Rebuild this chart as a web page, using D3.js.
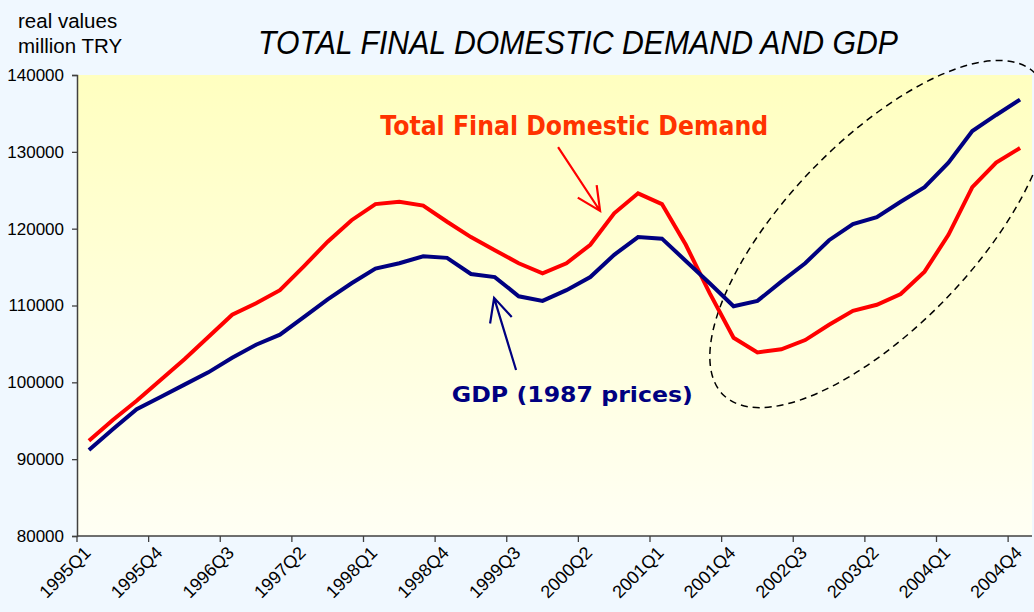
<!DOCTYPE html>
<html>
<head>
<meta charset="utf-8">
<script src="https://cdn.jsdelivr.net/npm/d3@7"></script>
<style>
  html, body { margin: 0; padding: 0; background: #F0F8FF; }
  svg { display: block; }
</style>
</head>
<body>
<svg id="chart"></svg>
<script>
      // data ==========================================================
      var years    = ["1995","1996","1997","1998","1999","2000","2001","2002","2003","2004"];
      var quarters = [];
      years.forEach(function(y) { for (var q = 1; q <= 4; q++) quarters.push(y + "Q" + q); });

      // Total Final Domestic Demand, real values million TRY
      var tfdd = [92400, 95100, 97600,100300,103000,105900,108800,110300,112000,115100,
                 118300,121100,123200,123500,123000,120900,118900,117200,115500,114200,
                 115500,117900,122000,124600,123200,117900,111600,105800,103900,104300,
                 105500,107500,109300,110100,111500,114400,119200,125400,128600,130500];
      // GDP (1987 prices)
      var gdp  = [91200, 93900, 96500, 98100, 99700,101300,103200,104900,106200,108500,
                 110800,112900,114800,115500,116400,116200,114100,113700,111200,110600,
                 112000,113700,116600,118900,118700,115800,112900,109900,110600,113100,
                 115500,118500,120600,121500,123500,125400,128600,132700,134800,136800];

      var yTicks = [80000, 90000, 100000, 110000, 120000, 130000, 140000];
      var xTickLabels = quarters.filter(function(d, i) { return i % 3 == 0; });

      // annotation anchors in data units [quarter index, value]
      var redArrow  = [[19.65, 130600], [21.41, 122300]];
      var blueArrow = [[17.89, 101600], [16.97, 111000]];
      var redLabelAt  = [12.2, 132200];
      var blueLabelAt = [15.2, 97400];
      var ellipseAt   = [33.1, 119300];

      // layout ========================================================
      var svgWidth = 1034, svgHeight = 612;
      var margin = {left: 77, right: 2, top: 75, bottom: 76};
      var graphWidth  = svgWidth - margin.left - margin.right;
      var graphHeight = svgHeight - margin.top - margin.bottom;

      var svg = d3.select("#chart").attr("width", svgWidth).attr("height", svgHeight);

      var defs = svg.append("defs");
      var grad = defs.append("linearGradient").attr("id","plotGrad")
                     .attr("x1",0).attr("y1",0).attr("x2",0).attr("y2",1);
      grad.append("stop").attr("offset","0%").attr("stop-color","#FFFFC0");
      grad.append("stop").attr("offset","100%").attr("stop-color","#FFFFF4");

      var xBand = d3.scaleBand().domain(quarters).range([0, graphWidth]).padding(0);
      var xIdx  = function(i) { return xBand.step() * (i + 0.5); };
      var yScale = d3.scaleLinear().domain([80000, 140000]).range([graphHeight, 0]);

      var g = svg.append("g").attr("transform","translate(" + margin.left + "," + margin.top + ")");

      g.append("rect").attr("x",0).attr("y",0)
       .attr("width",graphWidth).attr("height",graphHeight)
       .style("fill","url(#plotGrad)");

      // dashed ellipse (drawn before lines), runs past the plot on the right
      g.append("ellipse")
       .attr("cx", xIdx(ellipseAt[0])).attr("cy", yScale(ellipseAt[1]))
       .attr("rx", 224).attr("ry", 93)
       .attr("transform","rotate(-46," + xIdx(ellipseAt[0]) + "," + yScale(ellipseAt[1]) + ")")
       .style("fill","none").style("stroke","#000").style("stroke-width",1.5)
       .style("stroke-dasharray","7,5");

      // lines
      var line = d3.line().x(function(d, i) { return xIdx(i); }).y(function(d) { return yScale(d); });
      g.append("path").datum(tfdd).attr("d", line)
       .style("fill","none").style("stroke","#FF0000").style("stroke-width",4).style("stroke-linejoin","miter");
      g.append("path").datum(gdp).attr("d", line)
       .style("fill","none").style("stroke","#000080").style("stroke-width",4).style("stroke-linejoin","miter");

      // axes
      var yAxis = d3.axisLeft(yScale).tickValues(yTicks).tickSize(5).tickPadding(8).tickFormat(d3.format("d"));
      var gy = g.append("g").call(yAxis);
      gy.select(".domain").style("stroke","#404040").style("stroke-width",1.5);
      gy.selectAll(".tick line").style("stroke","#404040").style("stroke-width",1.3);
      gy.selectAll("text").style("font-family","'Liberation Sans', Arial, sans-serif")
        .style("font-size","17px").style("fill","#000");

      var xTickPos = d3.scaleLinear().domain([0, quarters.length]).range([0, graphWidth]);
      var gx = g.append("g").attr("transform","translate(0," + graphHeight + ")");
      gx.append("line").attr("x1",0).attr("x2",graphWidth).attr("y1",0).attr("y2",0)
        .style("stroke","#404040").style("stroke-width",1.5);
      gx.selectAll(".xt").data(xTickLabels).enter().append("line").attr("class","xt")
        .attr("x1", function(d, i) { return xTickPos(i * 3); })
        .attr("x2", function(d, i) { return xTickPos(i * 3); })
        .attr("y1", 0).attr("y2", 6)
        .style("stroke","#404040").style("stroke-width",1.3);
      gx.selectAll(".xl").data(xTickLabels).enter().append("text").attr("class","xl")
        .attr("transform", function(d, i) { return "translate(" + (xIdx(i * 3) + 3) + ",18) rotate(-45)"; })
        .attr("text-anchor","end")
        .style("font-family","'Liberation Sans', Arial, sans-serif").style("font-size","18px")
        .text(function(d) { return d; });

      // arrows
      function arrow(pts, color) {
        var x0 = xIdx(pts[0][0]), y0 = yScale(pts[0][1]);
        var x1 = xIdx(pts[1][0]), y1 = yScale(pts[1][1]);
        var ang = Math.atan2(y1 - y0, x1 - x0), len = 26, spread = 0.45;
        var p = "M" + x0 + "," + y0 + "L" + x1 + "," + y1 +
                "M" + (x1 - len * Math.cos(ang - spread)) + "," + (y1 - len * Math.sin(ang - spread)) +
                "L" + x1 + "," + y1 +
                "L" + (x1 - len * Math.cos(ang + spread)) + "," + (y1 - len * Math.sin(ang + spread));
        g.append("path").attr("d", p).style("fill","none").style("stroke",color).style("stroke-width",2.2);
      }
      arrow(redArrow, "#FF0000");
      arrow(blueArrow, "#000080");

      // series labels
      g.append("text").attr("x", xIdx(redLabelAt[0])).attr("y", yScale(redLabelAt[1]))
       .attr("textLength", 388).attr("lengthAdjust","spacingAndGlyphs")
       .style("font-family","'DejaVu Sans', Verdana, sans-serif").style("font-weight","bold")
       .style("font-size","26px").style("fill","#FF3300")
       .text("Total Final Domestic Demand");
      g.append("text").attr("x", xIdx(blueLabelAt[0])).attr("y", yScale(blueLabelAt[1]))
       .attr("textLength", 241).attr("lengthAdjust","spacingAndGlyphs")
       .style("font-family","'DejaVu Sans', Verdana, sans-serif").style("font-weight","bold")
       .style("font-size","22px").style("fill","#000080")
       .text("GDP (1987 prices)");

      // title and unit
      svg.append("text").attr("x", 258).attr("y", 54)
       .attr("textLength", 640).attr("lengthAdjust","spacingAndGlyphs")
       .style("font-family","'Liberation Sans Narrow', 'Liberation Sans', Arial, sans-serif")
       .style("font-style","italic").style("font-size","33px").style("fill","#000")
       .text("TOTAL FINAL DOMESTIC DEMAND AND GDP");
      var unit = svg.append("text").style("font-family","'Liberation Sans', Arial, sans-serif")
       .style("font-size","20.5px").style("fill","#000");
      unit.append("tspan").attr("x", 18).attr("y", 28).text("real values");
      unit.append("tspan").attr("x", 18).attr("y", 53).text("million TRY");
</script>
</body>
</html>
